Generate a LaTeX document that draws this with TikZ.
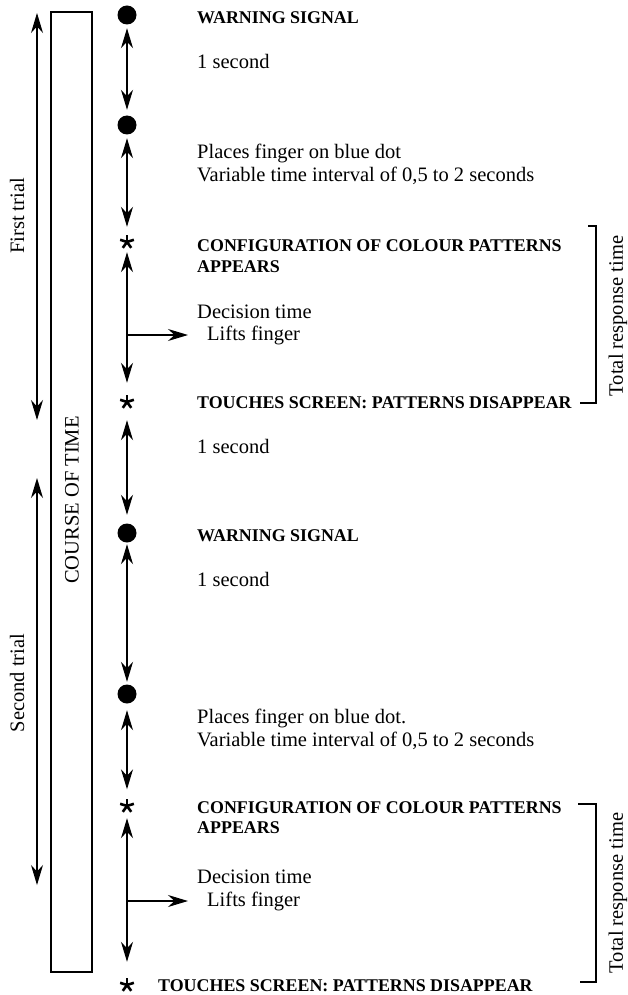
\documentclass[tikz,border=0pt]{standalone}
\usepackage{fontspec}
\setmainfont{Liberation Serif}
\usetikzlibrary{arrows.meta}
\begin{document}
\begin{tikzpicture}[x=1pt,y=-1pt,
  ln/.style={line width=1.2pt},
  tip/.tip={Stealth[length=20pt,width=12pt,inset=6.5pt]},
  dbl/.style={ln,tip-tip},
  sgl/.style={ln,-tip},
  dot/.style={circle,fill=black,minimum size=19pt,inner sep=0pt},
  astk/.style={circle,minimum size=17pt,inner sep=0pt,
    path picture={\foreach \a in {90,18,162,-54,234}{\draw[line width=2.6pt] (path picture bounding box.center) -- ++(\a:7.2pt);}}},
  reg/.style={anchor=base west,inner sep=0pt,font=\fontsize{20.5}{24}\selectfont},
  bld/.style={anchor=base west,inner sep=0pt,font=\fontsize{17.9}{21}\selectfont\bfseries},
  vlab/.style={rotate=90,inner sep=0pt,font=\fontsize{20.5}{24}\selectfont}
]
\useasboundingbox (0,0) rectangle (627,995);

% left side
\node[draw,ln,minimum width=41pt,minimum height=960pt,inner sep=0pt] (course) at (71.5,492) {};
\node[vlab] (coursel) at (72,500) {COURSE OF TIME};
\coordinate (ft1) at (37,13);
\coordinate (ft2) at (37,420);
\draw[dbl] (ft1) -- (ft2);
\node[vlab] (ftl) at (17,216) {First trial};
\coordinate (st1) at (37,478);
\coordinate (st2) at (37,885);
\draw[dbl] (st1) -- (st2);
\node[vlab] (stl) at (17,683) {Second trial};

% events
\node[dot] (d1) at (127,15) {};
\node[dot] (d2) at (127,125) {};
\node[astk] (s1) at (127,242) {};
\node[astk] (s2) at (127,402) {};
\node[dot] (d3) at (127,533) {};
\node[dot] (d4) at (127,694) {};
\node[astk] (s3) at (127,806) {};
\node[astk] (s4) at (127,985) {};

\draw[dbl,shorten <=3.5pt,shorten >=5.5pt] (d1) -- (d2);
\draw[dbl,shorten <=3.5pt,shorten >=6.5pt] (d2) -- (s1);
\draw[dbl,shorten <=1.5pt,shorten >=10.5pt] (s1) -- (s2);
\draw[dbl,shorten <=9.5pt,shorten >=8.5pt] (s2) -- (d3);
\draw[dbl,shorten <=1.5pt,shorten >=2.5pt] (d3) -- (d4);
\draw[dbl,shorten <=6.5pt,shorten >=8pt] (d4) -- (s3);
\draw[dbl,shorten <=3.5pt,shorten >=14.5pt] (s3) -- (s4);

% texts
\node[bld] (w1) at (197,23.5) {WARNING SIGNAL};
\node[reg] (o1) at (197,69) {1 second};
\node[reg] (p1) at (197,159) {Places finger on blue dot};
\node[reg] (v1) at (197,182) {Variable time interval of 0,5 to 2 seconds};
\node[bld] (c1) at (197,251) {CONFIGURATION OF COLOUR PATTERNS};
\node[bld] (a1) at (197,272) {APPEARS};
\node[reg] (dt1) at (197,318) {Decision time};
\node[reg] (lf1) at (207,340) {Lifts finger};
\node[bld] (t1) at (197,408) {TOUCHES SCREEN: PATTERNS DISAPPEAR};
\node[reg] (o2) at (197,453) {1 second};
\node[bld] (w2) at (197,541) {WARNING SIGNAL};
\node[reg] (o3) at (197,586) {1 second};
\node[reg] (p2) at (197,723) {Places finger on blue dot.};
\node[reg] (v2) at (197,746) {Variable time interval of 0,5 to 2 seconds};
\node[bld] (c2) at (197,813) {CONFIGURATION OF COLOUR PATTERNS};
\node[bld] (a2) at (197,833) {APPEARS};
\node[reg] (dt2) at (197,883) {Decision time};
\node[reg] (lf2) at (207,906) {Lifts finger};
\node[bld] (t2) at (158,991) {TOUCHES SCREEN: PATTERNS DISAPPEAR};

% lifts finger arrows
\coordinate (h1) at (127,335);
\draw[sgl,shorten >=19pt] (h1) -- (h1 -| lf1.west);
\coordinate (h2) at (127,901);
\draw[sgl,shorten >=19pt] (h2) -- (h2 -| lf2.west);

% brackets
\coordinate (b1a) at (588,226);
\coordinate (b1b) at (596,226);
\coordinate (b1c) at (596,403);
\coordinate (b1d) at (580,403);
\draw[ln] (b1a) -- (b1b) -- (b1c) -- (b1d);
\node[vlab] (tr1) at (618,316) {Total response time};
\coordinate (b2a) at (578,804);
\coordinate (b2b) at (596,804);
\coordinate (b2c) at (596,982);
\coordinate (b2d) at (580,982);
\draw[ln] (b2a) -- (b2b) -- (b2c) -- (b2d);
\node[vlab] (tr2) at (618,893) {Total response time};
\end{tikzpicture}
\end{document}
